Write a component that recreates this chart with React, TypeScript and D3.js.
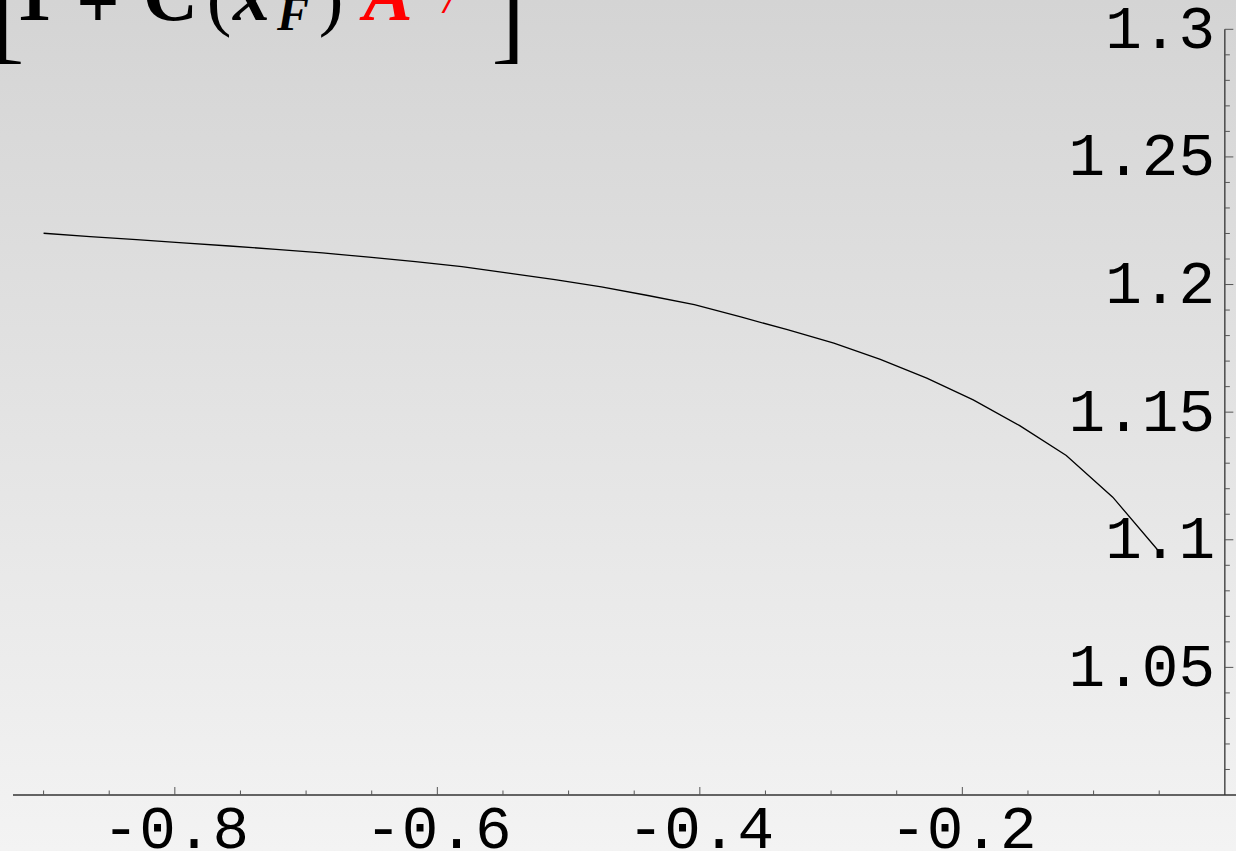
import React, { useEffect, useRef } from 'react';
import * as d3 from 'd3';

const xSamples = [
  -0.9, -0.8646, -0.8292, -0.7938, -0.7583, -0.7229, -0.6875, -0.6521, -0.6167,
  -0.5813, -0.5458, -0.5104, -0.475, -0.4396, -0.4042, -0.3688, -0.3333, -0.2979,
  -0.2625, -0.2271, -0.1917, -0.1563, -0.1208, -0.0854, -0.05,
];
const ySamples = [
  1.2201, 1.2188, 1.2176, 1.2163, 1.2151, 1.2138, 1.2124, 1.2107, 1.209,
  1.207, 1.2045, 1.2019, 1.1991, 1.1957, 1.1921, 1.1873, 1.1823, 1.177,
  1.1707, 1.1633, 1.1548, 1.1447, 1.133, 1.1167, 1.0953,
];

const xMajorTicks = [-0.8, -0.6, -0.4, -0.2];
const xTickLabels = ['-0.8', '-0.6', '-0.4', '-0.2'];
const yMajorTicks = [1.05, 1.1, 1.15, 1.2, 1.25, 1.3];
const yTickLabels = ['1.05', '1.1', '1.15', '1.2', '1.25', '1.3'];

const W = 1236;
const H = 851;

const App = () => {
  const svgRef = useRef<SVGSVGElement>(null);

  useEffect(() => {
    const svg = d3.select(svgRef.current);
    svg.selectAll('*').remove();
    svg.attr('width', W).attr('height', H);

    const x = d3.scaleLinear().domain([-0.9233, 0.0085]).range([13, W]);
    const y = d3.scaleLinear().domain([1.0, 1.3]).range([795, 29.3]);

    const defs = svg.append('defs');
    const grad = defs.append('linearGradient')
      .attr('id', 'bg')
      .attr('x1', 0).attr('y1', 0).attr('x2', 0).attr('y2', 1);
    grad.append('stop').attr('offset', '0%').attr('stop-color', '#d4d4d4');
    grad.append('stop').attr('offset', '100%').attr('stop-color', '#f3f3f3');
    svg.append('rect').attr('width', W).attr('height', H).attr('fill', 'url(#bg)');

    // title (only the bottom of it shows)
    const title = svg.append('g');
    const serif = "'Liberation Serif', 'DejaVu Serif', serif";
    const glyph = (t: string, cx: number, by: number, size: number, opts: any = {}) => {
      title.append('text')
        .attr('x', cx).attr('y', by)
        .attr('text-anchor', opts.anchor || 'middle')
        .attr('font-family', serif)
        .attr('font-size', size)
        .attr('font-weight', opts.weight || 'bold')
        .attr('font-style', opts.italic ? 'italic' : 'normal')
        .attr('fill', opts.color || '#000')
        .text(t);
    };
    glyph('[', -9, 51, 100, { anchor: 'start', weight: 'normal' });
    glyph('1', 33.5, 20, 74);
    glyph('+', 98, 28, 76);
    glyph('C', 170.5, 20, 76);
    glyph('(', 219, 22, 74, { weight: 'normal' });
    glyph('x', 251.5, 20, 74, { italic: true });
    glyph('F', 293, 30, 48, { italic: true });
    glyph(')', 331, 22, 74, { weight: 'normal' });
    glyph('A', 388, 20, 74, { italic: true, color: '#ff0000' });
    glyph('/', 444, 13, 40, { italic: true, color: '#ff0000', anchor: 'start' });
    glyph(']', 491.5, 51, 100, { anchor: 'start', weight: 'normal' });

    // x axis
    svg.append('line')
      .attr('x1', x(-0.9233)).attr('x2', W)
      .attr('y1', y(1.0)).attr('y2', y(1.0))
      .attr('stroke', '#333').attr('stroke-width', 1.3);
    const xMinor = d3.range(-0.9, 0, 0.05).map(v => +v.toFixed(2))
      .filter(v => !xMajorTicks.some(m => Math.abs(m - v) < 1e-6));
    svg.append('g').selectAll('line').data(xMinor).enter().append('line')
      .attr('x1', d => x(d)).attr('x2', d => x(d))
      .attr('y1', y(1.0)).attr('y2', y(1.0) - 4.5)
      .attr('stroke', '#555').attr('stroke-width', 1);
    svg.append('g').selectAll('line').data(xMajorTicks).enter().append('line')
      .attr('x1', d => x(d)).attr('x2', d => x(d))
      .attr('y1', y(1.0)).attr('y2', y(1.0) - 8)
      .attr('stroke', '#555').attr('stroke-width', 1);

    const mono = "'Liberation Mono', 'DejaVu Sans Mono', monospace";
    svg.append('g').selectAll('text').data(xMajorTicks).enter().append('text')
      .attr('x', d => x(d) + 1)
      .attr('y', 848)
      .attr('text-anchor', 'middle')
      .attr('font-family', mono)
      .attr('font-size', 61)
      .attr('fill', '#000')
      .text((d, i) => xTickLabels[i]);

    // y axis (on the right, at x = 0)
    svg.append('line')
      .attr('x1', x(0)).attr('x2', x(0))
      .attr('y1', y(1.0)).attr('y2', y(1.3))
      .attr('stroke', '#333').attr('stroke-width', 1.3);
    const yMinor = d3.range(1.01, 1.3, 0.01).map(v => +v.toFixed(2))
      .filter(v => !yMajorTicks.some(m => Math.abs(m - v) < 1e-6));
    svg.append('g').selectAll('line').data(yMinor).enter().append('line')
      .attr('x1', x(0)).attr('x2', x(0) + 5)
      .attr('y1', d => y(d)).attr('y2', d => y(d))
      .attr('stroke', '#555').attr('stroke-width', 1);
    svg.append('g').selectAll('line').data(yMajorTicks).enter().append('line')
      .attr('x1', x(0)).attr('x2', x(0) + 8.5)
      .attr('y1', d => y(d)).attr('y2', d => y(d))
      .attr('stroke', '#555').attr('stroke-width', 1);
    svg.append('g').selectAll('text').data(yMajorTicks).enter().append('text')
      .attr('x', 1215)
      .attr('y', d => y(d) + 18.5)
      .attr('text-anchor', 'end')
      .attr('font-family', mono)
      .attr('font-size', 61)
      .attr('fill', '#000')
      .text((d, i) => yTickLabels[i]);

    // curve
    const line = d3.line<number>()
      .x((d, i) => x(xSamples[i]))
      .y(d => y(d));
    svg.append('path')
      .datum(ySamples)
      .attr('d', line)
      .attr('fill', 'none')
      .attr('stroke', '#000')
      .attr('stroke-width', 1.3);
  }, []);

  return (
    <svg ref={svgRef} style={{ position: 'absolute', left: 0, top: 0, display: 'block' }}></svg>
  );
};

export default App;
